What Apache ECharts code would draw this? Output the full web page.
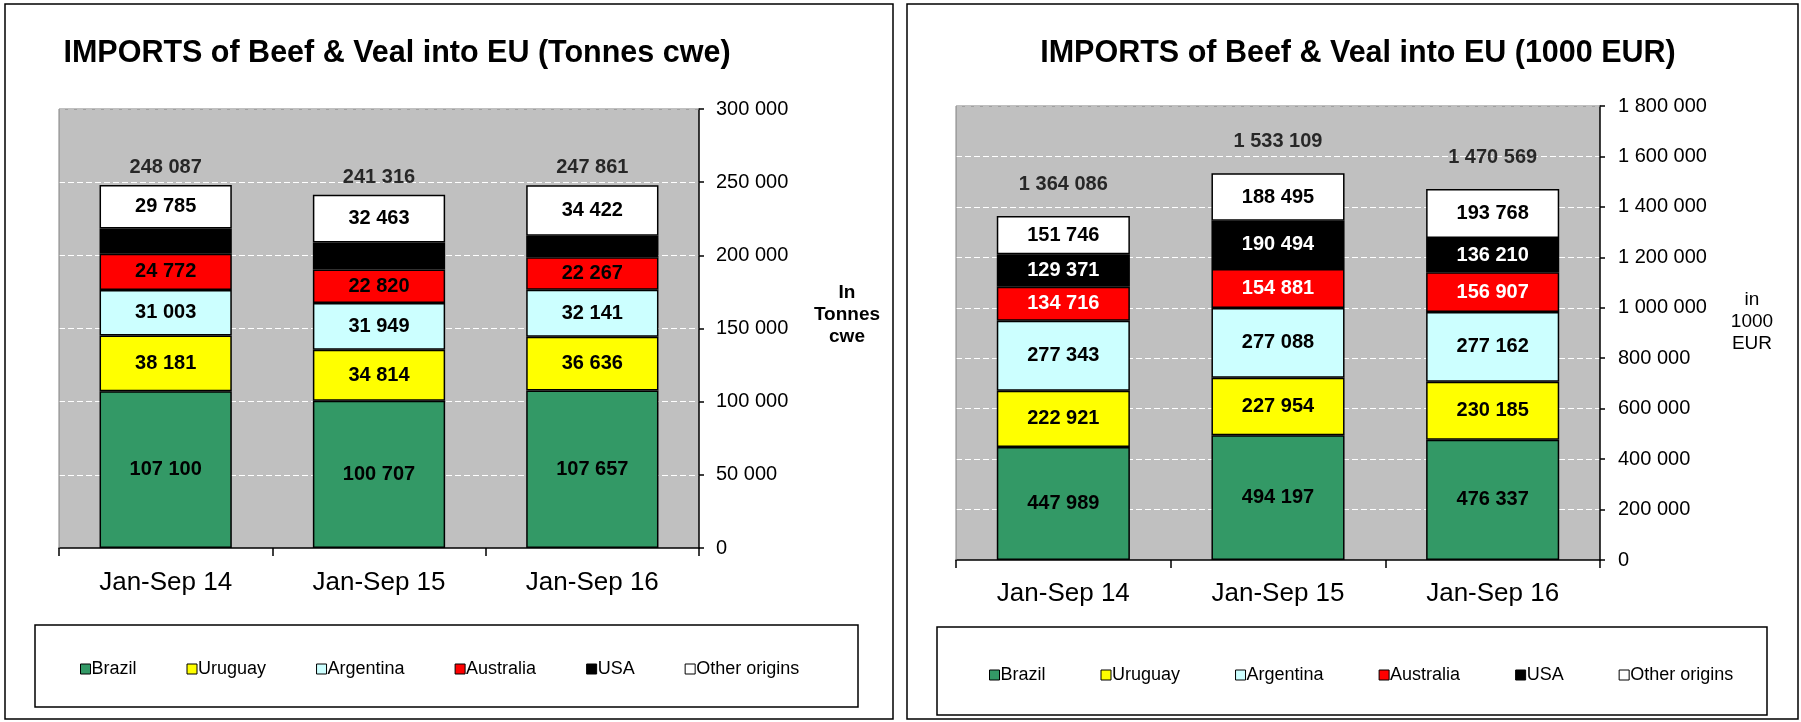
<!DOCTYPE html>
<html>
<head>
<meta charset="UTF-8">
<title>Imports of Beef & Veal into EU</title>
<script src="https://cdn.jsdelivr.net/npm/echarts@6/dist/echarts.min.js"></script>
<style>
  body { margin: 0; background: #fff; }
  #main { width: 1801px; height: 722px; }
</style>
</head>
<body>
<div id="main"></div>
<script>
// categories and origins
var categories = ['Jan-Sep 14', 'Jan-Sep 15', 'Jan-Sep 16'];
var origins = ['Brazil', 'Uruguay', 'Argentina', 'Australia', 'USA', 'Other origins'];

// tonnes cwe (USA segment is unlabelled in the picture: total minus the labelled parts)
var tonBrazil    = [107100, 100707, 107657];
var tonUruguay   = [38181, 34814, 36636];
var tonArgentina = [31003, 31949, 32141];
var tonAustralia = [24772, 22820, 22267];
var tonUSA       = [17246, 18563, 14738];
var tonOther     = [29785, 32463, 34422];
var tonTotal     = [248087, 241316, 247861];

// 1000 EUR
var eurBrazil    = [447989, 494197, 476337];
var eurUruguay   = [222921, 227954, 230185];
var eurArgentina = [277343, 277088, 277162];
var eurAustralia = [134716, 154881, 156907];
var eurUSA       = [129371, 190494, 136210];
var eurOther     = [151746, 188495, 193768];
var eurTotal     = [1364086, 1533109, 1470569];

var colors = ['#339966', '#FFFF00', '#CCFFFF', '#FF0000', '#000000', '#FFFFFF'];
var FONT = '"Liberation Sans", Arial, sans-serif';

function fmt(v) {
    return String(v).replace(/\B(?=(\d{3})+(?!\d))/g, ' ');
}

// one stacked chart: values per origin, label colours, which labels show
function stackSeries(g, values, labelColors, labelShow, totals, totalGap) {
    var list = origins.map(function (name, i) {
        return {
            name: name,
            type: 'bar',
            stack: 'st' + g,
            xAxisIndex: g,
            yAxisIndex: g,
            barWidth: '62%',
            data: values[i],
            itemStyle: { color: colors[i], borderColor: '#000', borderWidth: 1.5 },
            label: {
                show: labelShow[i],
                position: 'inside',
                color: labelColors[i],
                fontSize: 20,
                fontWeight: 'bold',
                fontFamily: FONT,
                formatter: function (p) { return fmt(p.value); }
            },
            emphasis: { disabled: true }
        };
    });
    // totals above the bars (invisible points carrying the labels)
    list.push({
        name: 'Total',
        type: 'scatter',
        xAxisIndex: g,
        yAxisIndex: g,
        symbolSize: 1,
        itemStyle: { color: 'rgba(0,0,0,0)' },
        data: totals,
        label: {
            show: true,
            position: 'top',
            distance: totalGap,
            color: '#000',
            fontSize: 20,
            fontWeight: 'bold',
            fontFamily: FONT,
            formatter: function (p) { return fmt(p.value); }
        },
        emphasis: { disabled: true },
        z: 5
    });
    return list;
}

function xAxisCfg(g, margin) {
    return {
        type: 'category',
        gridIndex: g,
        data: categories,
        axisLine: { lineStyle: { color: '#000', width: 1.5 } },
        axisTick: { show: true, length: 8, lineStyle: { color: '#000', width: 1.5 } },
        axisLabel: { fontSize: 26, color: '#000', fontFamily: FONT, margin: margin }
    };
}

function yAxisCfg(g, max, interval, margin) {
    return {
        type: 'value',
        gridIndex: g,
        position: 'right',
        min: 0,
        max: max,
        interval: interval,
        axisLine: { show: true, lineStyle: { color: '#000', width: 1.5 } },
        axisTick: { show: true, length: 5, lineStyle: { color: '#000', width: 1.5 } },
        axisLabel: { fontSize: 20, color: '#000', fontFamily: FONT, margin: margin, formatter: fmt },
        splitLine: { show: true, lineStyle: { color: '#fff', width: 1, type: [6, 3] } }
    };
}

function legendCfg(left, top, gap) {
    return {
        data: origins,
        left: left,
        top: top,
        icon: 'rect',
        itemWidth: 10,
        itemHeight: 10,
        itemGap: gap,
        itemStyle: { borderColor: '#000', borderWidth: 1 },
        textStyle: { fontSize: 18, color: '#000', fontFamily: FONT, padding: [0, 0, 0, -4] },
        selectedMode: false
    };
}

function txt(x, y, s, size, weight, lh) {
    return {
        type: 'text', x: x, y: y, z: 100,
        style: {
            text: s, fill: '#000',
            font: weight + ' ' + size + 'px ' + FONT,
            fontSize: size, fontWeight: weight, fontFamily: FONT,
            align: 'center', verticalAlign: 'middle',
            textAlign: 'center', textVerticalAlign: 'middle',
            lineHeight: lh || size
        }
    };
}

function box(x, y, w, h, color, width) {
    return {
        type: 'rect', z: 100,
        shape: { x: x, y: y, width: w, height: h },
        style: { fill: 'none', stroke: color, lineWidth: width }
    };
}

function line(x1, y1, x2, y2, color) {
    return {
        type: 'line', z: 100,
        shape: { x1: x1, y1: y1, x2: x2, y2: y2 },
        style: { stroke: color, lineWidth: 1 }
    };
}

var myChart = echarts.init(document.getElementById('main'));

var option = {
    animation: false,
    backgroundColor: '#fff',
    textStyle: { fontFamily: FONT },
    grid: [
        { left: 59, top: 109, width: 640, height: 439, show: true, backgroundColor: '#C0C0C0', borderColor: '#808080', borderWidth: 0 },
        { left: 956, top: 106, width: 644, height: 454, show: true, backgroundColor: '#C0C0C0', borderColor: '#808080', borderWidth: 0 }
    ],
    xAxis: [xAxisCfg(0, 22), xAxisCfg(1, 21)],
    yAxis: [yAxisCfg(0, 300000, 50000, 17), yAxisCfg(1, 1800000, 200000, 18)],
    legend: [legendCfg(75, 655, 50), legendCfg(984, 661, 55)],
    series: []
        .concat(stackSeries(0,
            [tonBrazil, tonUruguay, tonArgentina, tonAustralia, tonUSA, tonOther],
            ['#000', '#000', '#000', '#000', '#fff', '#000'],
            [true, true, true, true, false, true],
            tonTotal, 7))
        .concat(stackSeries(1,
            [eurBrazil, eurUruguay, eurArgentina, eurAustralia, eurUSA, eurOther],
            ['#000', '#000', '#000', '#fff', '#fff', '#000'],
            [true, true, true, true, true, true],
            eurTotal, 21)),
    graphic: [
        // panels
        box(5, 4, 888, 715, '#000', 1.5),
        box(907, 4, 891, 715, '#000', 1.5),
        // plot area borders (top and left)
        line(59, 109, 699, 109, '#808080'),
        line(59, 109, 59, 548, '#808080'),
        line(956, 106, 1600, 106, '#808080'),
        line(956, 106, 956, 560, '#808080'),
        // legend boxes
        box(35, 625, 823, 82, '#000', 1.5),
        box(937, 627, 830, 88, '#000', 1.5),
        // titles
        txt(397, 54, 'IMPORTS of Beef & Veal into EU (Tonnes cwe)', 30.5, 'bold'),
        txt(1358, 54, 'IMPORTS of Beef & Veal into EU (1000 EUR)', 30.5, 'bold'),
        // axis names
        txt(847, 315, 'In\nTonnes\ncwe', 19, 'bold', 22),
        txt(1752, 322, 'in\n1000\nEUR', 19, 'normal', 22)
    ]
};

myChart.setOption(option);
</script>
</body>
</html>
